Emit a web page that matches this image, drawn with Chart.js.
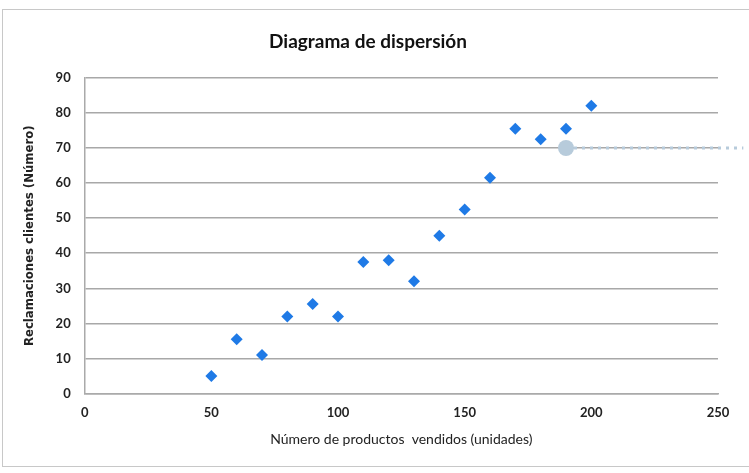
<!DOCTYPE html>
<html>
<head>
<meta charset="utf-8">
<script src="https://cdn.jsdelivr.net/npm/chart.js@4"></script>
<style>
  html, body { margin: 0; padding: 0; background: #fff; }
  #wrap { position: relative; width: 749px; height: 473px; }
  #frame { position: absolute; left: 2px; top: 9px; width: 760px; height: 458px;
           border: 1px solid #c8c8c8; box-sizing: border-box; pointer-events: none; }
</style>
</head>
<body>
<div id="wrap">
  <canvas id="scatterChart" width="749" height="473"></canvas>
  <div id="frame"></div>
</div>
<script>
// Datos
const unidades = [50, 60, 70, 80, 90, 100, 110, 120, 130, 140, 150, 160, 170, 180, 190, 200];
const reclamaciones = [5, 15.5, 11, 22, 25.5, 22, 37.5, 38, 32, 45, 52.5, 61.5, 75.5, 72.5, 75.5, 82];
const marcadorX = [190, 260];
const marcadorY = [70, 70];
const xTicks = [0, 50, 100, 150, 200, 250];
const yTicks = [0, 10, 20, 30, 40, 50, 60, 70, 80, 90];

const font = "Lato, 'Open Sans', sans-serif";

const ctx = document.getElementById('scatterChart').getContext('2d');
new Chart(ctx, {
    type: 'scatter',
    data: {
        datasets: [
            {
                data: unidades.map((x, i) => ({ x: x, y: reclamaciones[i] })),
                pointStyle: 'rectRot',
                pointRadius: 6,
                backgroundColor: '#1f7ae6',
                borderColor: '#1f7ae6',
                borderWidth: 0
            },
            {
                type: 'line',
                data: marcadorX.map((x, i) => ({ x: x, y: marcadorY[i] })),
                borderColor: '#b7cbdb',
                borderWidth: 3,
                borderDash: [3, 5],
                pointRadius: [8, 0],
                pointBackgroundColor: '#b7cbdb',
                pointBorderWidth: 0,
                clip: false
            }
        ]
    },
    options: {
        responsive: false,
        animation: false,
        layout: { padding: { left: 18, right: 31, top: 12, bottom: 21 } },
        plugins: {
            legend: { display: false },
            tooltip: { enabled: false },
            title: {
                display: true,
                text: 'Diagrama de dispersión',
                color: '#111',
                font: { family: font, size: 19, weight: 'bold' },
                padding: { top: 18, bottom: 25 }
            }
        },
        scales: {
            x: {
                type: 'linear',
                min: 0, max: 250,
                afterBuildTicks: axis => { axis.ticks = xTicks.map(v => ({ value: v })); },
                grid: { display: false, drawTicks: false },
                border: { display: true, color: '#aaa', width: 1.5 },
                ticks: { color: '#222', padding: 11, font: { family: font, size: 13, weight: 'bold' } },
                title: {
                    display: true,
                    text: 'Número de productos  vendidos (unidades)',
                    color: '#222',
                    font: { family: font, size: 14 },
                    padding: { top: 0 }
                }
            },
            y: {
                min: 0, max: 90,
                afterBuildTicks: axis => { axis.ticks = yTicks.map(v => ({ value: v })); },
                grid: { color: '#a8a8a8', lineWidth: 1.5, drawTicks: false },
                border: { display: true, color: '#aaa', width: 1.5 },
                ticks: { color: '#222', padding: 14, font: { family: font, size: 13, weight: 'bold' } },
                title: {
                    display: true,
                    text: 'Reclamaciones clientes (Número)',
                    color: '#222',
                    font: { family: "'DejaVu Sans Condensed', " + font, size: 13, weight: 'bold' },
                    padding: { bottom: 4 }
                }
            }
        }
    }
});
</script>
</body>
</html>
